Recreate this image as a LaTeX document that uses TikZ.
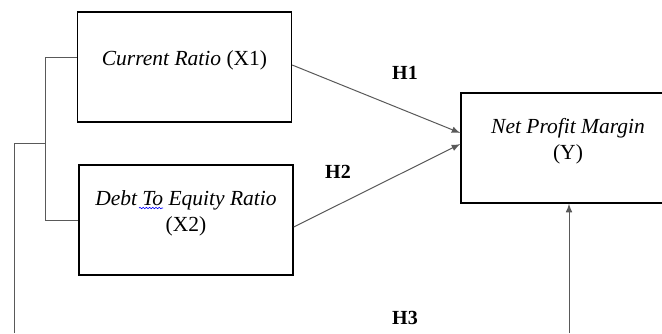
\documentclass[tikz,border=0pt]{standalone}
\usepackage{fontspec}
\setmainfont{Liberation Serif}
\usetikzlibrary{calc,decorations.pathmorphing}
\tikzset{
  varbox/.style={draw, line width=0.65pt, minimum width=107pt, minimum height=55pt, inner sep=0pt},
  vartext/.style={align=center, font=\fontsize{10.75}{13}\selectfont, inner sep=0pt},
  hyp/.style={font=\fontsize{10}{12}\selectfont\bfseries, inner sep=0pt},
  conn/.style={draw, gray!70!black, line width=0.5pt},
  spellwave/.style={draw, blue, line width=0.3pt, decorate, decoration={snake, amplitude=0.35pt, segment length=1.6pt}},
}
\begin{document}
\begin{tikzpicture}[x=0.5pt,y=-0.5pt]
        \clip (0,0) rectangle (662,333);

        \node[varbox] (x1) at (184.5,67) {};
        \node[varbox] (x2) at (186,220) {};
        \node[varbox] (y) at (568,148) {};

        \node[vartext] (x1l) at ($(x1.center)+(0,-7)$) {\textit{Current Ratio} (X1)};
        \node[vartext] (x2l) at ($(x2.center)+(0,-7)$) {\textit{Debt To Equity Ratio}\\(X2)};
        \node[vartext] (yl) at ($(y.center)+(0,-7)$) {\textit{Net Profit Margin}\\(Y)};

        \node[hyp] (h1) at (405,73) {H1};
        \node[hyp] (h2) at (338,172) {H2};
        \node[hyp] (h3) at (405,318) {H3};

        \coordinate (x1w) at ($(x1.west)+(0,-10)$);
        \coordinate (top) at (45,57);
        \coordinate (mid) at (45,143);
        \coordinate (low) at (45,220);
        \coordinate (far) at (14,143);
        \coordinate (farend) at (14,333);
        \coordinate (yin1) at ($(y.west)+(0,-15)$);
        \coordinate (yin2) at ($(y.west)+(0,-4)$);
        \coordinate (x2e) at ($(x2.east)+(0,7)$);
        \coordinate (x1e) at ($(x1.east)+(0,-2)$);
        \coordinate (bottom) at (569,333);
        \coordinate (wavea) at (139,208);
        \coordinate (waveb) at (163,208);

        \path[spellwave] (wavea) -- (waveb);
        \path[conn] (x1w) -- (top) -- (low) -- (x2.west);
        \path[conn] (mid) -- (far) -- (farend);
        \path[conn,->,>=latex] (x1e) -- (yin1);
        \path[conn,->,>=latex] (x2e) -- (yin2);
        \path[conn,->,>=latex] (bottom) -- (y.south -| bottom);
\end{tikzpicture}
\end{document}
